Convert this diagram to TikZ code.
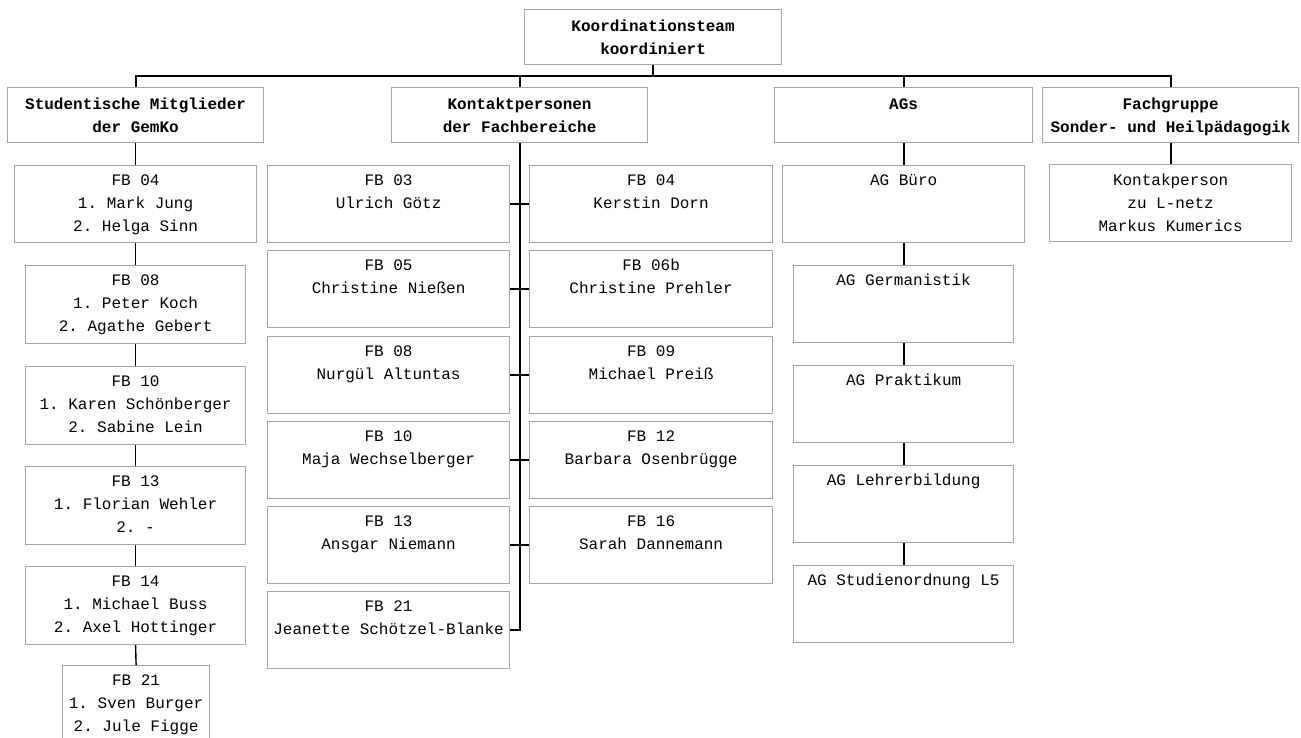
\documentclass[tikz,border=0pt]{standalone}
\usepackage{fontspec}
\setmainfont{Liberation Mono}
\frenchspacing
\definecolor{boxgray}{RGB}{165,165,165}
\tikzset{
  box/.style={draw=boxgray, line width=1.2pt, inner sep=0pt, anchor=north west, fill=white,
    font=\fontsize{16}{23}\selectfont},
  conn/.style={draw=black, line width=2pt},
  thinconn/.style={draw=black, line width=1.4pt}
}
\newcommand{\bx}[7]{\node[box] (#1) at (#2,#3) {\parbox[t][#5pt][t]{#4pt}{\centering\frenchspacing\rule{0pt}{#6pt}#7}};}
\begin{document}
\begin{tikzpicture}[x=1pt,y=-1pt]
\useasboundingbox (0,0) rectangle (1301,737);
% top
\bx{top}{524}{9}{257}{55}{22}{\textbf{Koordinationsteam}\\\textbf{koordiniert}}
% headers
\bx{st}{7}{87}{256}{55}{21.5}{\textbf{Studentische Mitglieder}\\\textbf{der GemKo}}
\bx{kp}{391}{87}{256}{55}{21.5}{\textbf{Kontaktpersonen}\\\textbf{der Fachbereiche}}
\bx{ag}{774}{87}{258}{55}{21.5}{\textbf{AGs}}
\bx{fg}{1042}{87}{256}{55}{21.5}{\textbf{Fachgruppe}\\\textbf{Sonder- und Heilpädagogik}}
% student column
\bx{s1}{14}{165}{242}{77}{20}{FB 04\\1. Mark Jung\\2. Helga Sinn}
\bx{s2}{25}{265}{220}{78}{20}{FB 08\\1. Peter Koch\\2. Agathe Gebert}
\bx{s3}{25}{366}{220}{78}{20}{FB 10\\1. Karen Schönberger\\2. Sabine Lein}
\bx{s4}{25}{466}{220}{78}{20}{FB 13\\1. Florian Wehler\\2. -}
\bx{s5}{25}{566}{220}{78}{20}{FB 14\\1. Michael Buss\\2. Axel Hottinger}
\bx{s6}{62}{665}{147}{80}{20}{FB 21\\1. Sven Burger\\2. Jule Figge}
% contact persons, left
\bx{kl1}{267}{165}{242}{77}{20}{FB 03\\Ulrich Götz}
\bx{kl2}{267}{250}{242}{77}{20}{FB 05\\Christine Nießen}
\bx{kl3}{267}{336}{242}{77}{20}{FB 08\\Nurgül Altuntas}
\bx{kl4}{267}{421}{242}{77}{20}{FB 10\\Maja Wechselberger}
\bx{kl5}{267}{506}{242}{77}{20}{FB 13\\Ansgar Niemann}
\bx{kl6}{267}{591}{242}{77}{20}{FB 21\\Jeanette Schötzel-Blanke}
% contact persons, right
\bx{kr1}{529}{165}{243}{77}{20}{FB 04\\Kerstin Dorn}
\bx{kr2}{529}{250}{243}{77}{20}{FB 06b\\Christine Prehler}
\bx{kr3}{529}{336}{243}{77}{20}{FB 09\\Michael Preiß}
\bx{kr4}{529}{421}{243}{77}{20}{FB 12\\Barbara Osenbrügge}
\bx{kr5}{529}{506}{243}{77}{20}{FB 16\\Sarah Dannemann}
% AGs
\bx{a1}{782}{165}{242}{77}{20}{AG Büro}
\bx{a2}{793}{265}{220}{77}{20}{AG Germanistik}
\bx{a3}{793}{365}{220}{77}{20}{AG Praktikum}
\bx{a4}{793}{465}{220}{77}{20}{AG Lehrerbildung}
\bx{a5}{793}{565}{220}{77}{20}{AG Studienordnung L5}
% Fachgruppe
\bx{fk}{1049}{164}{242}{77}{21}{Kontakperson\\zu L-netz\\Markus Kumerics}
% top bus
\coordinate (bus) at (top.south |- 0,76);
\draw[conn] (top.south) -- (bus);
\draw[conn] (st.north) -- (st.north |- bus) -- (fg.north |- bus) -- (fg.north);
\draw[conn] (kp.north) -- (kp.north |- bus);
\draw[conn] (ag.north) -- (ag.north |- bus);
% student column
\draw[thinconn] (st.south) -- (s1.north);
\draw[thinconn] (s1.south) -- (s2.north);
\draw[thinconn] (s2.south) -- (s3.north);
\draw[thinconn] (s3.south) -- (s4.north);
\draw[thinconn] (s4.south) -- (s5.north);
\draw[thinconn] (s5.south) -- (s6.north);
% contact bus
\draw[conn] (kp.south) -- (kp.south |- kl6.east) -- (kl6.east);
\draw[conn] (kl1.east) -- (kr1.west);
\draw[conn] (kl2.east) -- (kr2.west);
\draw[conn] (kl3.east) -- (kr3.west);
\draw[conn] (kl4.east) -- (kr4.west);
\draw[conn] (kl5.east) -- (kr5.west);
% AG column
\draw[conn] (ag.south) -- (a1.north);
\draw[conn] (a1.south) -- (a2.north);
\draw[conn] (a2.south) -- (a3.north);
\draw[conn] (a3.south) -- (a4.north);
\draw[conn] (a4.south) -- (a5.north);
% Fachgruppe
\draw[conn] (fg.south) -- (fk.north);
\end{tikzpicture}
\end{document}
